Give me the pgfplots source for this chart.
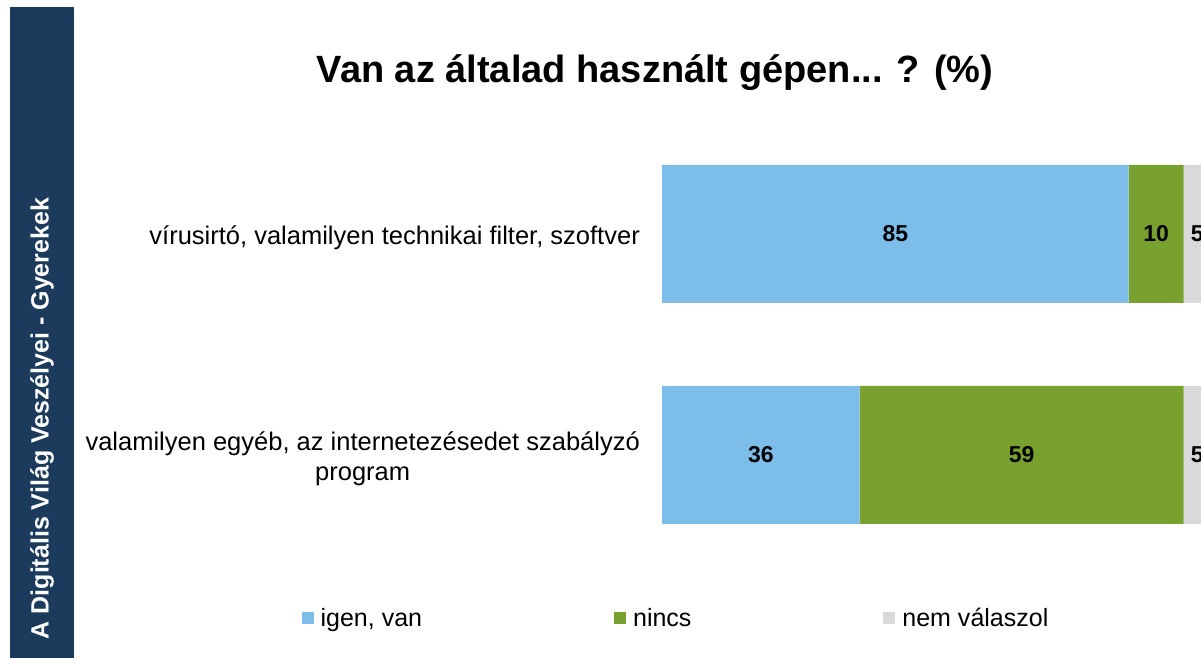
\documentclass[border=0pt]{standalone}
\usepackage{pgfplots}
\pgfplotsset{compat=1.18}
\usepackage{fontspec}
\setmainfont{Liberation Sans}
\definecolor{band}{HTML}{1B3A5C}
\definecolor{cblue}{HTML}{7CBDEA}
\definecolor{cgreen}{HTML}{78A12F}
\definecolor{cgray}{HTML}{D9D9D9}
\newcommand{\lblfont}{\fontsize{25.5bp}{30bp}\selectfont}
\newcommand{\legfont}{\fontsize{25bp}{30bp}\selectfont}
\begin{document}
\begin{tikzpicture}[x=1bp,y=1bp]
\useasboundingbox (0,0) rectangle (1201,658);
\clip (0,0) rectangle (1201,658);
% side band
\fill[band] (10,0) rectangle (73.5,651);
\node[rotate=90, text=white, font=\fontsize{25bp}{30bp}\selectfont\bfseries] at (42,239.5) {A Digitális Világ Veszélyei - Gyerekek};
% title
\node[font=\fontsize{38bp}{46bp}\selectfont\bfseries] at (655,585) {Van az általad használt gépen... ? (\%)};

\begin{axis}[
    at={(662bp,92.5bp)}, anchor=south west,
    scale only axis, width=549bp, height=442bp,
    xbar stacked, bar width=138bp,
    xmin=0, xmax=100, ymin=-0.5, ymax=1.5,
    axis line style={draw=none},
    xtick=\empty, ytick={0,1},
    yticklabels={{valamilyen egyéb, az internetezésedet szabályzó\\program},{vírusirtó, valamilyen technikai filter, szoftver}},
    major tick length=0pt,
    yticklabel style={align=center, inner sep=0pt, xshift=-22bp, yshift=-3.5bp, font=\lblfont},
    legend columns=3,
    legend style={at={(0.0255,-0.1188)}, anchor=center, draw=none, fill=none,
        font=\legfont, /tikz/every even column/.append style={column sep=190bp}},
]
\addplot[fill=cblue, draw=none, legend image code/.code={\fill[cblue] (0bp,-6bp) rectangle (12bp,6bp); \path (17bp,0bp);}]
    coordinates {(36,0) (85,1)};
\addplot[fill=cgreen, draw=none, legend image code/.code={\fill[cgreen] (0bp,-6bp) rectangle (12bp,6bp); \path (17bp,0bp);}]
    coordinates {(59,0) (10,1)};
\addplot[fill=cgray, draw=none, legend image code/.code={\fill[cgray] (0bp,-6bp) rectangle (12bp,6bp); \path (17bp,0bp);}]
    coordinates {(5,0) (5,1)};
\legend{{igen, van}, nincs, nem válaszol}
\end{axis}

% value labels in the middle of each segment
\begin{axis}[
    at={(662bp,92.5bp)}, anchor=south west,
    scale only axis, width=549bp, height=442bp,
    xmin=0, xmax=100, ymin=-0.5, ymax=1.5,
    hide axis, clip=false,
]
\addplot[draw=none, mark=none, nodes near coords, point meta=explicit symbolic,
    every node near coord/.append style={anchor=center, font=\fontsize{23bp}{27bp}\selectfont\bfseries}]
    coordinates {(42.5,1)[85] (90,1)[10] (97.5,1)[5] (18,0)[36] (65.5,0)[59] (97.5,0)[5]};
\end{axis}
\end{tikzpicture}
\end{document}
